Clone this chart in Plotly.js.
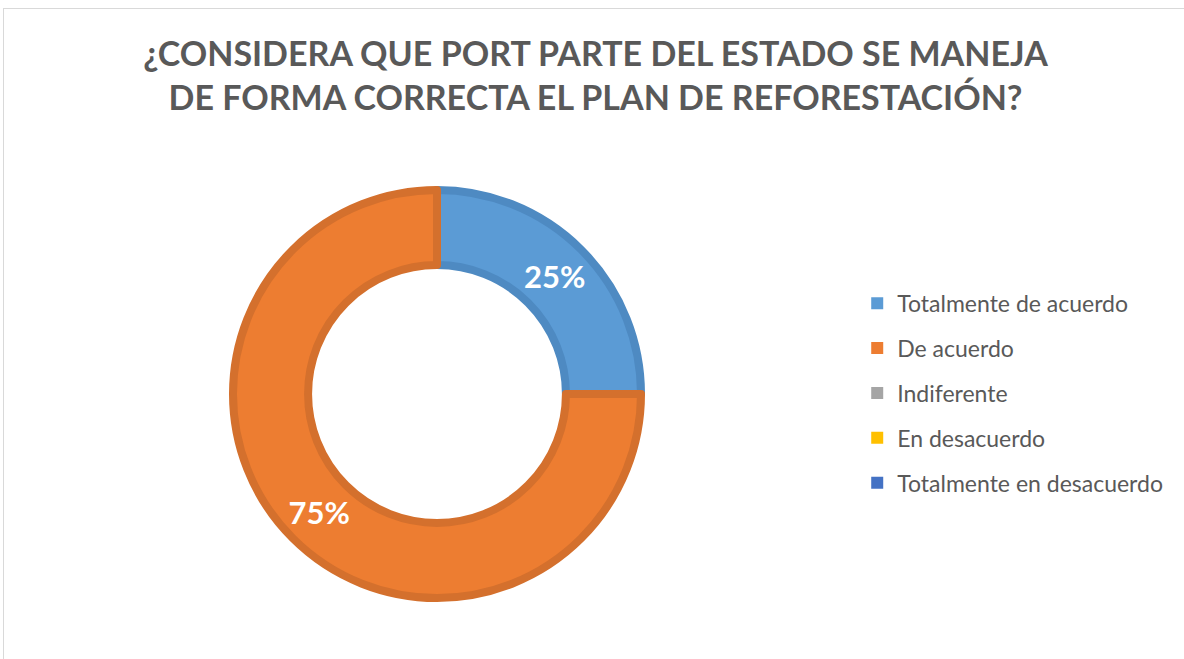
<!DOCTYPE html>
<html>
<head>
<meta charset="utf-8">
<script src="https://cdn.plot.ly/plotly-3.0.1.min.js"></script>
<style>
  html, body { margin: 0; padding: 0; background: #ffffff; overflow: hidden; }
  #frame { position: absolute; left: 3px; top: 8px; width: 1200px; height: 680px;
           border-left: 1px solid #d9d9d9; border-top: 1px solid #d9d9d9; box-sizing: border-box; }
  #chart { position: absolute; left: 0; top: 0; width: 1184px; height: 659px; }
</style>
</head>
<body>
<div id="frame"></div>
<div id="chart"></div>
<script>
// ---- data ----
const categories = ["Totalmente de acuerdo", "De acuerdo", "Indiferente", "En desacuerdo", "Totalmente en desacuerdo"];
const values = [25, 75, 0, 0, 0];
const sliceColors = ["#5B9BD5", "#ED7D31", "#A5A5A5", "#FFC000", "#4472C4"];
const borderColors = ["#4E8AC2", "#D4702D", "#959595", "#E5AD00", "#3C66B0"];
const titleText = "¿CONSIDERA QUE PORT PARTE DEL ESTADO SE MANEJA<br>DE FORMA CORRECTA EL PLAN DE REFORESTACIÓN?";

// ---- traces ----
const W = 1184, H = 659;
const cx = 437, r = 204;
const donut = {
  type: "pie",
  labels: categories,
  values: values,
  sort: false,
  direction: "clockwise",
  rotation: 0,
  hole: 0.632,
  marker: {
    colors: sliceColors,
    line: { color: borderColors, width: values.map(v => (v > 0 ? 8 : 0)) }
  },
  textinfo: "percent",
  texttemplate: "%{percent:.0%}",
  textposition: "inside",
  insidetextorientation: "auto",
  insidetextfont: { family: "Lato, 'Open Sans', sans-serif", size: 31, color: "#ffffff", weight: "bold" },
  showlegend: false,
  domain: { x: [(cx - r) / W, (cx + r) / W], y: [0, 1] },
  hoverinfo: "label+percent"
};

// legend entries (one per category, so that gaps can be set between them)
const legendTraces = categories.map((c, i) => ({
  type: "scatter",
  mode: "markers",
  x: [null], y: [null],
  name: c,
  legendgroup: "g" + i,
  marker: { symbol: "square", size: 12, color: sliceColors[i] },
  hoverinfo: "skip"
}));

const layout = {
  width: W, height: H,
  paper_bgcolor: "rgba(0,0,0,0)",
  plot_bgcolor: "rgba(0,0,0,0)",
  margin: { l: 0, r: 0, t: 190, b: 61 },
  title: {
    text: titleText,
    x: 0.503, xanchor: "center",
    y: 0.90, yanchor: "top", yref: "container",
    font: { family: "Lato, 'Open Sans', sans-serif", size: 34, color: "#595959", weight: "bold" }
  },
  xaxis: { visible: false },
  yaxis: { visible: false },
  showlegend: true,
  legend: {
    x: 0.724, xanchor: "left",
    y: 0.502, yanchor: "middle",
    traceorder: "grouped",
    tracegroupgap: 12,
    font: { family: "Lato, 'Open Sans', sans-serif", size: 23, color: "#595959" },
    itemwidth: 30,
    bgcolor: "rgba(0,0,0,0)"
  }
};

Plotly.newPlot("chart", [donut].concat(legendTraces), layout, { displayModeBar: false, staticPlot: true });
</script>
</body>
</html>
